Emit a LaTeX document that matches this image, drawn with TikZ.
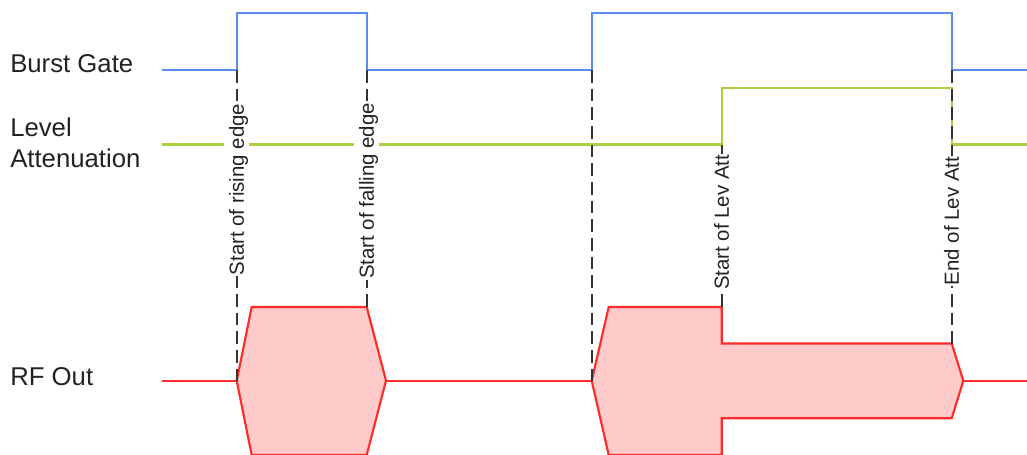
\documentclass[tikz,border=0pt]{standalone}
\usepackage{fontspec}
\setmainfont{Liberation Sans}
\usetikzlibrary{positioning}

\definecolor{gateblue}{HTML}{5B8CF0}
\definecolor{attgreen}{HTML}{A8D040}
\definecolor{rfred}{HTML}{FF2A2A}
\definecolor{rffill}{HTML}{FFCACA}
\definecolor{cuegray}{HTML}{333333}
\definecolor{textgray}{HTML}{222222}

\begin{document}
\begin{tikzpicture}[
    x=0.75pt, y=-0.75pt,
    mylabel/.style={inner sep=0pt, text=textgray, align=left, font=\fontsize{19.3}{23.25}\selectfont},
    mysignal/.style={line width=1.6pt},
    mycue/.style={draw=cuegray, line width=1.3pt, dash pattern=on 9.5pt off 4.5pt},
    mytag/.style={rotate=90, fill=white, inner xsep=1pt, inner ysep=4pt, text height=10.8pt, text depth=0pt, text=textgray, font=\fontsize{15.3}{18}\selectfont}
]
\useasboundingbox (0,0) rectangle (1027,454);

% row labels
\node[mylabel, anchor=base west] (gate) at (10,72.5) {Burst Gate};
\node[mylabel, anchor=north west] (att) at (10,118) {Level\\Attenuation};
\node[mylabel, anchor=base west] (rf) at (10,385.5) {RF Out};

% burst gate
\draw[mysignal, gateblue] (162,70) -- (236.7,70) -- (236.7,13.3) -- (366.7,13.3) -- (366.7,70)
    -- (591.7,70) -- (591.7,13.3) -- (951.7,13.3) -- (951.7,70) -- (1027,70);

% level attenuation
\draw[mysignal, attgreen] (162,144.5) -- (721.7,144.5) -- (721.7,88.3) -- (951.7,88.3)
    -- (951.7,144.5) -- (1027,144.5);

% rf out
\draw[mysignal, rfred] (162,380.7) -- (236.7,380.7);
\draw[mysignal, rfred, fill=rffill] (236.7,380.7) -- (251.7,307) -- (366.7,307) -- (386,380.7)
    -- (366.7,455) -- (251.7,455) -- cycle;
\draw[mysignal, rfred] (386,380.7) -- (591.7,380.7);
\draw[mysignal, rfred, fill=rffill] (591.7,380.7) -- (608.7,307) -- (721.7,307) -- (721.7,343.5)
    -- (951.7,343.5) -- (963.3,380.7) -- (951.7,418.3) -- (721.7,418.3) -- (721.7,455)
    -- (608.7,455) -- cycle;
\draw[mysignal, rfred] (963.3,380.7) -- (1027,380.7);

% timing cues
\coordinate (c1a) at (236.7,70);
\coordinate (c1b) at (236.7,380.7);
\coordinate (c2a) at (366.7,70);
\coordinate (c2b) at (366.7,307);
\coordinate (c3a) at (591.7,70);
\coordinate (c3b) at (591.7,380.7);
\coordinate (c4a) at (721.7,144.5);
\coordinate (c4b) at (721.7,307);
\coordinate (c5a) at (951.7,70);
\coordinate (c5b) at (951.7,343.5);

\draw[mycue] (c1a) -- (c1b);
\draw[mycue] (c2a) -- (c2b);
\draw[mycue] (c3a) -- (c3b);
\draw[mycue] (c4a) -- (c4b);
\draw[mycue] (c5a) -- (c5b);

\node[mytag] (rise) at (236.7,189.5) {Start of rising edge};
\node[mytag] (fall) at (366.7,191) {Start of falling edge};
\node[mytag] (levon) at (721.7,222.5) {Start of Lev Att};
\node[mytag] (levoff) at (951.7,221) {End of Lev Att};
\end{tikzpicture}
\end{document}
